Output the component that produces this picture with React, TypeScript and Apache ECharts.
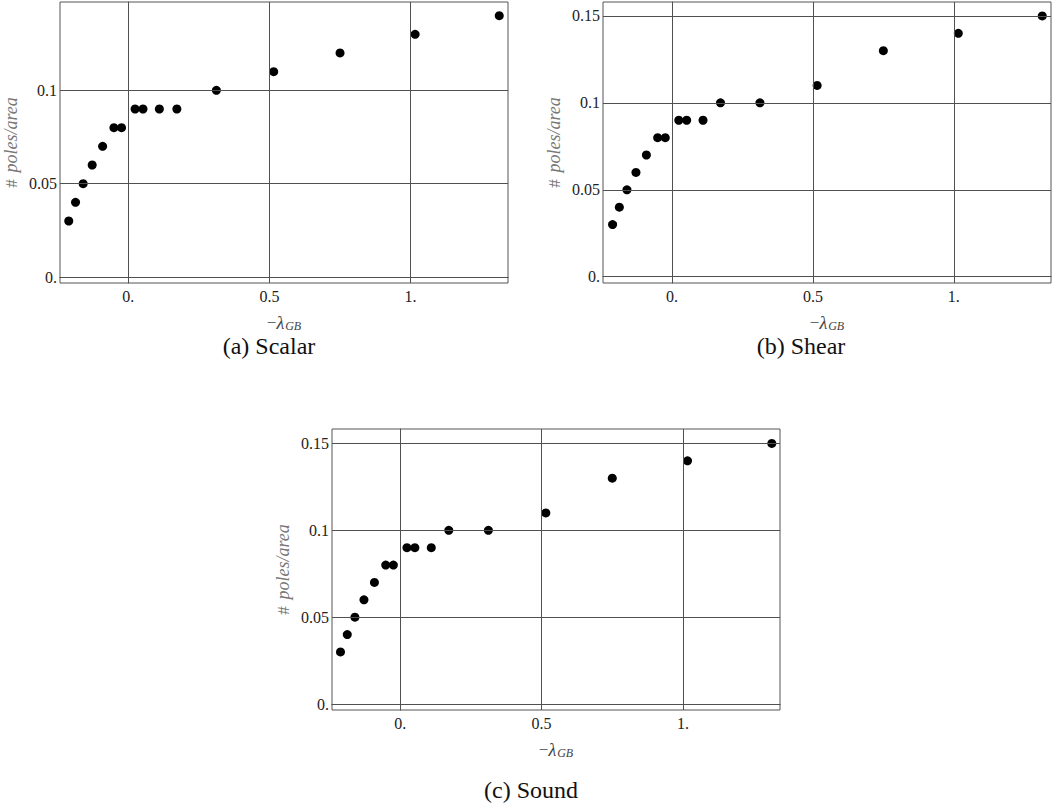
import React, { useEffect, useRef } from "react";
import * as echarts from "echarts";

// -λ_GB values (shared by all three panels)
const lambdaValues = [-0.211, -0.187, -0.160, -0.128, -0.091, -0.051, -0.024, 0.024, 0.052, 0.110, 0.172, 0.312, 0.515, 0.750, 1.016, 1.314];
// # poles / area
const scalarValues = [0.03, 0.04, 0.05, 0.06, 0.07, 0.08, 0.08, 0.09, 0.09, 0.09, 0.09, 0.10, 0.11, 0.12, 0.13, 0.14];
const shearValues = [0.03, 0.04, 0.05, 0.06, 0.07, 0.08, 0.08, 0.09, 0.09, 0.09, 0.10, 0.10, 0.11, 0.13, 0.14, 0.15];
const soundValues = [0.03, 0.04, 0.05, 0.06, 0.07, 0.08, 0.08, 0.09, 0.09, 0.09, 0.10, 0.10, 0.11, 0.13, 0.14, 0.15];

const xTicks = [0, 0.5, 1];
const yTicksA = [0, 0.05, 0.1];
const yTicksBC = [0, 0.05, 0.1, 0.15];
const captions = ["(a) Scalar", "(b) Shear", "(c) Sound"];

const FONT = "'Liberation Serif', 'DejaVu Serif', serif";
const GRID_COLOR = "#505050";

const fmt = (v: number) => {
  if (Math.abs(v) < 1e-9) return "0.";
  if (Math.abs(v - 1) < 1e-9) return "1.";
  return String(Math.round(v * 100) / 100);
};

export default function App() {
  const ref = useRef<HTMLDivElement>(null);
  useEffect(() => {
    document.body.style.margin = "0";
    if (!ref.current) return;
    const chart = echarts.init(ref.current, undefined, { renderer: "svg" });

    const grids = [
      { left: 60, top: 2, width: 448, height: 281 },
      { left: 603, top: 2, width: 448, height: 281 },
      { left: 332, top: 429, width: 448, height: 281 },
    ];
    const xRanges = [
      [-0.242, 1.345],
      [-0.245, 1.345],
      [-0.241, 1.343],
    ];
    const yRanges = [
      [-0.0032, 0.1473],
      [-0.0036, 0.158],
      [-0.0034, 0.1583],
    ];
    const yTickSets = [yTicksA, yTicksBC, yTicksBC];
    const dataSets = [scalarValues, shearValues, soundValues];

    const xAxis = grids.map((_, i) => ({
      type: "value",
      gridIndex: i,
      min: xRanges[i][0],
      max: xRanges[i][1],
      name: "{m|−}{l|λ}{s|GB}",
      nameLocation: "middle",
      nameGap: 30,
      nameTextStyle: {
        rich: {
          m: { fontFamily: FONT, fontSize: 17, color: "#444" },
          l: { fontFamily: FONT, fontSize: 18, fontStyle: "italic", color: "#444" },
          s: { fontFamily: FONT, fontSize: 12, fontStyle: "italic", color: "#444", verticalAlign: "bottom", padding: [7, 0, 0, 1] },
        },
      },
      axisLine: { show: true, lineStyle: { color: "#333", width: 1 } },
      axisTick: { show: false },
      splitLine: { show: false },
      axisLabel: {
        customValues: xTicks,
        formatter: (v: number) => fmt(v),
        fontFamily: FONT,
        fontSize: 16,
        color: "#222",
        margin: 5,
      },
    }));

    const yAxis = grids.map((_, i) => ({
      type: "value",
      gridIndex: i,
      min: yRanges[i][0],
      max: yRanges[i][1],
      name: "{h|#}  {t|poles/area}",
      nameLocation: "middle",
      nameGap: 40,
      nameRotate: 90,
      nameTextStyle: {
        rich: {
          h: { fontFamily: FONT, fontSize: 17, color: "#777" },
          t: { fontFamily: FONT, fontSize: 18, fontStyle: "italic", color: "#777" },
        },
      },
      axisLine: { show: true, lineStyle: { color: "#555", width: 1 } },
      axisTick: { show: false },
      splitLine: { show: false },
      axisLabel: {
        customValues: yTickSets[i],
        formatter: (v: number) => fmt(v),
        fontFamily: FONT,
        fontSize: 16,
        color: "#222",
        margin: 3,
      },
    }));

    const series = grids.map((_, i) => ({
      type: "scatter",
      xAxisIndex: i,
      yAxisIndex: i,
      symbol: "circle",
      symbolSize: 9,
      itemStyle: { color: "#000", opacity: 1 },
      data: lambdaValues.map((x, k) => [x, dataSets[i][k]]),
      markLine: {
        silent: true,
        symbol: "none",
        animation: false,
        label: { show: false },
        lineStyle: { color: GRID_COLOR, width: 1, type: "solid" },
        data: [
          ...xTicks.map((v) => ({ xAxis: v })),
          ...yTickSets[i].filter((v) => v <= yRanges[i][1]).map((v) => ({ yAxis: v })),
        ],
      },
    }));

    const capPos = [
      [269, 346],
      [801, 346],
      [531, 790],
    ];

    chart.setOption({
      animation: false,
      backgroundColor: "#fff",
      grid: grids.map((g) => ({ ...g, show: true, borderColor: "#555", borderWidth: 1, backgroundColor: "transparent" })),
      xAxis,
      yAxis,
      series,
      graphic: captions.map((c, i) => ({
        type: "text",
        x: capPos[i][0],
        y: capPos[i][1],
        style: {
          text: c,
          fontFamily: FONT,
          fontSize: 24,
          fill: "#111",
          textAlign: "center",
          textVerticalAlign: "middle",
        },
      })),
    });
    return () => chart.dispose();
  }, []);
  return <div ref={ref} style={{ width: 1059, height: 809 }} />;
}
